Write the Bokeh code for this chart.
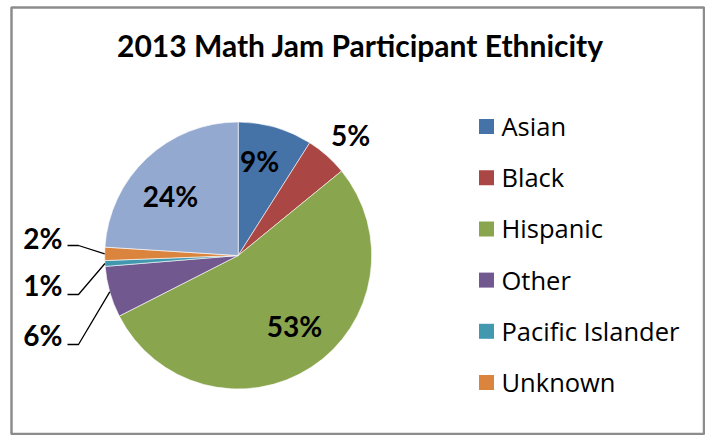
import math
from bokeh.plotting import figure
from bokeh.models import Range1d
from bokeh.core.properties import value
from bokeh.embed import file_html
from bokeh.resources import INLINE

# ---- data ----
categories = ["Asian", "Black", "Hispanic", "Other", "Pacific Islander", "Unknown", "White"]
shares = [9.0, 5.1, 53.4, 6.2, 0.7, 1.6, 24.0]
colors = ["#4572A7", "#AA4643", "#89A54E", "#71588F", "#4198AF", "#DB843D", "#93A9CF"]
legend_items = ["Asian", "Black", "Hispanic", "Other", "Pacific Islander", "Unknown"]
title_text = "2013 Math Jam Participant Ethnicity"

# ---- layout (page pixels) ----
W, H = 705, 435

def X(px):
    return px

def Y(py):
    return H - py

CX, CY, R = 237.7, 255.0, 133.5

p = figure(width=W, height=H, output_backend="svg", toolbar_location=None,
           x_range=Range1d(0, W), y_range=Range1d(0, H), min_border=0)
p.axis.visible = False
p.grid.visible = False
p.outline_line_color = None
p.background_fill_color = "white"
p.border_fill_color = "white"

# frame
fx0, fy0, fx1, fy1 = 11, 7, 703.5, 433.5
p.rect(x=[X((fx0 + fx1) / 2)], y=[Y((fy0 + fy1) / 2)], width=[fx1 - fx0], height=[fy1 - fy0],
       fill_color=None, line_color="#8C8C8C", line_width=2.5)

# title
p.text(x=[X(360)], y=[Y(44)], text=[title_text], text_align="center",
       text_baseline="middle", text_font=value("Lato"), text_font_style="bold",
       text_font_size="30px", text_color="black")

# wedges
total = sum(shares)
cum = 0.0
starts, ends, mids = [], [], []
for s in shares:
    a0 = cum / total
    cum += s
    a1 = cum / total
    starts.append(math.pi / 2 - 2 * math.pi * a0)
    ends.append(math.pi / 2 - 2 * math.pi * a1)
    mids.append((a0 + a1) / 2)

p.wedge(x=[X(CX)] * len(shares), y=[Y(CY)] * len(shares), radius=R,
        start_angle=starts, end_angle=ends, direction="clock",
        fill_color=colors, line_color="white", line_width=0.6)

labels = ["%d%%" % round(s / total * 100) for s in shares]

def on_circle(frac, rr):
    th = 2 * math.pi * frac
    return CX + rr * math.sin(th), CY - rr * math.cos(th)

lab_font = dict(text_font=value("Lato"), text_font_style="bold", text_font_size="28px",
                text_color="black")

# inside / outside labels (Asian, Black, Hispanic, White): offsets from pie centre
offsets = {0: (21.3, -94.5), 1: (112.3, -120.5), 2: (56.3, 70.5), 6: (-67.7, -59.5)}
for i, (dx, dy) in offsets.items():
    p.text(x=[X(CX + dx)], y=[Y(CY + dy)], text=[labels[i]], text_align="center",
           text_baseline="middle", **lab_font)

# leader-line labels (Other, Pacific Islander, Unknown)
leader_y = {5: 245, 4: 294, 3: 344}
text_y = {5: 237.5, 4: 284.5, 3: 334}
for i, ly in leader_y.items():
    sx, sy = on_circle(mids[i], R)
    p.line(x=[X(sx), X(78), X(67)], y=[Y(sy), Y(ly), Y(ly)], line_color="black", line_width=1.3)
    p.text(x=[X(62)], y=[Y(text_y[i])], text=[labels[i]], text_align="right",
           text_baseline="middle", **lab_font)

# legend
leg_y0, leg_dy = 126.0, 51.2
for k, name in enumerate(legend_items):
    yy = leg_y0 + k * leg_dy
    p.rect(x=[X(486)], y=[Y(yy)], width=[15], height=[15], fill_color=colors[k], line_color=None)
    p.text(x=[X(501)], y=[Y(yy - 0.5)], text=[name], text_align="left",
           text_baseline="middle", text_font=value("Open Sans"), text_font_size="25.5px",
           text_color="black")

open("out.html", "w").write(file_html(p, INLINE))
